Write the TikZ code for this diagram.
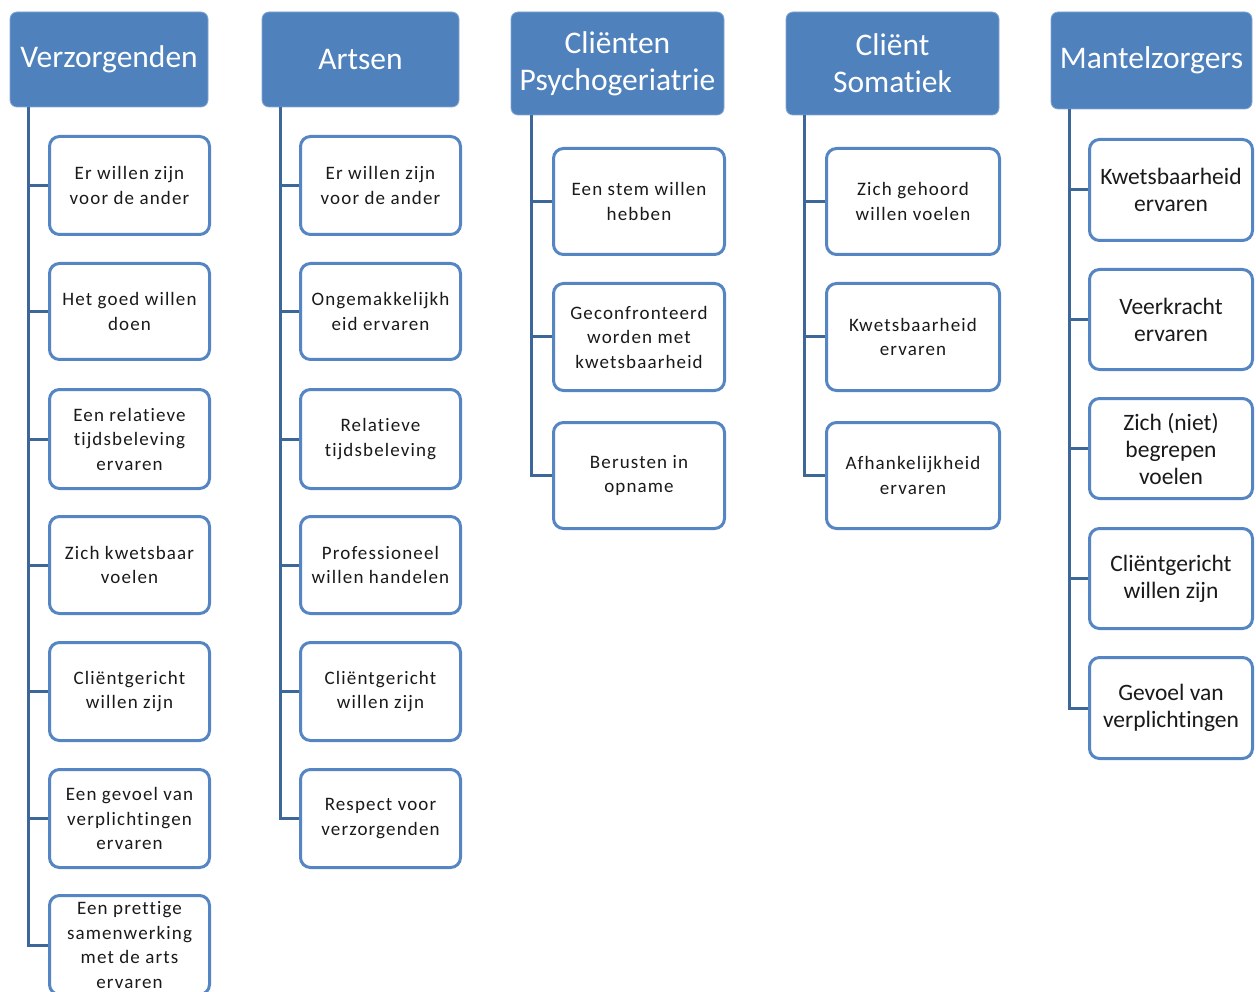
\documentclass[tikz,border=0pt]{standalone}
\usepackage{fontspec}
\setmainfont{Carlito}[Ligatures=NoCommon]
\newfontfamily\childfont[LetterSpace=6,Ligatures=NoCommon]{Carlito}
\definecolor{hb}{HTML}{4F81BD}
\definecolor{bb}{HTML}{5585C2}
\definecolor{lc}{HTML}{3E6799}
\definecolor{tx}{HTML}{1A1A1A}
\tikzset{
  headbox/.style={fill=hb, draw=hb!70!white, line width=0.8pt, rounded corners=7pt, text=white, align=center,
    font=\fontsize{31.5}{37}\selectfont, inner sep=0pt},
  kidbox/.style={fill=white, draw=bb, line width=3pt, rounded corners=10pt, text=tx, align=center,
    font=\childfont\fontsize{19}{24.5}\selectfont, inner sep=0pt},
  kidboxb/.style={kidbox, font=\fontsize{23.5}{27}\selectfont},
  conn/.style={draw=lc, line width=3pt}
}
\begin{document}
\begin{tikzpicture}[x=1pt,y=-1pt]
\useasboundingbox (0,0) rectangle (1256,992);
\clip (0,0) rectangle (1256,992);
% headers
\node[headbox, minimum width=198pt, minimum height=95pt] (h1) at (109,59.5) {Verzorgenden};
\node[headbox, minimum width=197pt, minimum height=95pt] (h2) at (360.5,59.5) {Artsen};
\node[headbox, minimum width=213pt, minimum height=103pt] (h3) at (617.5,63.5) {Cliënten\\Psychogeriatrie};
\node[headbox, minimum width=213pt, minimum height=103pt] (h4) at (892.5,63.5) {Cliënt\\Somatiek};
\node[headbox, minimum width=201pt, minimum height=97pt] (h5) at (1151.5,60.5) {Mantelzorgers};
% spine tops
\coordinate (s1) at (28,107);
\coordinate (s2) at (280,107);
\coordinate (s3) at (531,115);
\coordinate (s4) at (804,115);
\coordinate (s5) at (1069,109);
% column 1
\node[kidbox, minimum width=160pt, minimum height=98pt] (a1) at (129.5,185.5) {Er willen zijn\\voor de ander};
\node[kidbox, minimum width=160pt, minimum height=96pt] (a2) at (129.5,311.5) {Het goed willen\\doen};
\node[kidbox, minimum width=160pt, minimum height=99pt] (a3) at (129.5,439) {Een relatieve\\tijdsbeleving\\ervaren};
\node[kidbox, minimum width=160pt, minimum height=97pt] (a4) at (129.5,565) {Zich kwetsbaar\\voelen};
\node[kidbox, minimum width=160pt, minimum height=98pt] (a5) at (129.5,691.5) {Cliëntgericht\\willen zijn};
\node[kidbox, minimum width=160pt, minimum height=98pt] (a6) at (129.5,818.5) {Een gevoel van\\verplichtingen\\ervaren};
\node[kidbox, minimum width=160pt, minimum height=99pt] (a7) at (129.5,945) {Een prettige\\samenwerking\\met de arts\\ervaren};
% column 2
\node[kidbox, minimum width=160pt, minimum height=98pt] (b1) at (380.5,185.5) {Er willen zijn\\voor de ander};
\node[kidbox, minimum width=160pt, minimum height=96pt] (b2) at (380.5,311.5) {Ongemakkelijkh\\eid ervaren};
\node[kidbox, minimum width=160pt, minimum height=99pt] (b3) at (380.5,439) {Relatieve\\tijdsbeleving};
\node[kidbox, minimum width=160pt, minimum height=97pt] (b4) at (380.5,565) {Professioneel\\willen handelen};
\node[kidbox, minimum width=160pt, minimum height=98pt] (b5) at (380.5,691.5) {Cliëntgericht\\willen zijn};
\node[kidbox, minimum width=160pt, minimum height=98pt] (b6) at (380.5,818.5) {Respect voor\\verzorgenden};
% column 3
\node[kidbox, minimum width=171pt, minimum height=106pt] (c1) at (639,201.5) {Een stem willen\\hebben};
\node[kidbox, minimum width=171pt, minimum height=107pt] (c2) at (639,337) {Geconfronteerd\\worden met\\kwetsbaarheid};
\node[kidbox, minimum width=171pt, minimum height=106pt] (c3) at (639,475.5) {Berusten in\\opname};
% column 4
\node[kidbox, minimum width=173pt, minimum height=106pt] (d1) at (913,201.5) {Zich gehoord\\willen voelen};
\node[kidbox, minimum width=173pt, minimum height=107pt] (d2) at (913,337) {Kwetsbaarheid\\ervaren};
\node[kidbox, minimum width=173pt, minimum height=106pt] (d3) at (913,475.5) {Afhankelijkheid\\ervaren};
% column 5
\node[kidboxb, minimum width=163pt, minimum height=101pt] (e1) at (1171,190) {Kwetsbaarheid\\ervaren};
\node[kidboxb, minimum width=163pt, minimum height=100pt] (e2) at (1171,319.5) {Veerkracht\\ervaren};
\node[kidboxb, minimum width=163pt, minimum height=100pt] (e3) at (1171,448.5) {Zich (niet)\\begrepen\\voelen};
\node[kidboxb, minimum width=163pt, minimum height=100pt] (e4) at (1171,578.5) {Cliëntgericht\\willen zijn};
\node[kidboxb, minimum width=163pt, minimum height=101pt] (e5) at (1171,708) {Gevoel van\\verplichtingen};
% connectors
\foreach \k in {a1,a2,a3,a4,a5,a6,a7}{\draw[conn] (s1) |- (\k.west);}
\foreach \k in {b1,b2,b3,b4,b5,b6}{\draw[conn] (s2) |- (\k.west);}
\foreach \k in {c1,c2,c3}{\draw[conn] (s3) |- (\k.west);}
\foreach \k in {d1,d2,d3}{\draw[conn] (s4) |- (\k.west);}
\foreach \k in {e1,e2,e3,e4,e5}{\draw[conn] (s5) |- (\k.west);}
\end{tikzpicture}
\end{document}
